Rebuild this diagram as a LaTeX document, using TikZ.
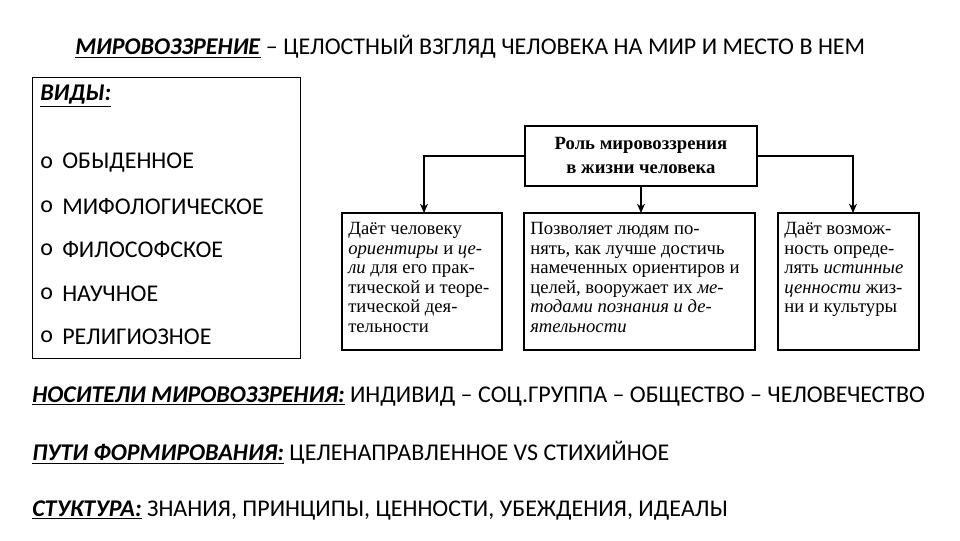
\documentclass[tikz,border=0pt]{standalone}
\usepackage{fontspec}
\setmainfont{Carlito}
\newfontfamily\serifb{Liberation Serif}
\usetikzlibrary{arrows.meta}
\begin{document}
\begin{tikzpicture}[x=0.75pt,y=-0.75pt,
  txt/.style={anchor=west,inner sep=0pt,font=\fontsize{18}{20}\selectfont},
  rbox/.style={draw,line width=0.8pt},
  btxt/.style={anchor=north west,inner sep=0pt,align=left,font=\serifb\fontsize{14}{14.7}\selectfont},
  arr/.style={line width=0.8pt,-{Stealth[length=7pt,width=6pt]}}]
\useasboundingbox (0,0) rectangle (960,540);
\node[txt] (title) at (75,47) {\underline{\textbf{\textit{МИРОВОЗЗРЕНИЕ}}} – ЦЕЛОСТНЫЙ ВЗГЛЯД ЧЕЛОВЕКА НА МИР И МЕСТО В НЕМ};
\draw[line width=0.6pt] (32,77) rectangle (300,358);
\node[txt] (vidy) at (40,96) {\underline{\textbf{\textit{ВИДЫ:}}}};
\foreach \t/\y [count=\i] in {ОБЫДЕННОЕ/163,МИФОЛОГИЧЕСКОЕ/207,ФИЛОСОФСКОЕ/250,НАУЧНОЕ/294,РЕЛИГИОЗНОЕ/337}{
  \node[txt] (o\i) at (40,\y) {o};
  \node[txt] (v\i) at (62,\y) {\t};}
% diagram
\draw[rbox] (525,126) rectangle (757,186);
\node[align=center,font=\serifb\bfseries\fontsize{14}{18}\selectfont] (toptxt) at (641,155) {Роль мировоззрения\\в жизни человека};
\coordinate (L) at (424,156); \coordinate (R) at (853,156);
\coordinate (TL) at (525,156); \coordinate (TR) at (757,156); \coordinate (TB) at (641,186);
\draw[rbox] (342,213) rectangle (502,350);
\draw[rbox] (524,213) rectangle (755,350);
\draw[rbox] (778,213) rectangle (919,350);
\coordinate (b1) at (424,213); \coordinate (b2) at (641,213); \coordinate (b3) at (853,213);
\draw[arr] (TL) -- (L) -- (b1);
\draw[arr] (TB) -- (b2);
\draw[arr] (TR) -- (R) -- (b3);
\node[btxt] (t1) at (348,222) {Даёт человеку\\\textit{ориентиры} и \textit{це-}\\\textit{ли} для его прак-\\тической и теоре-\\тической дея-\\тельности};
\node[btxt] (t2) at (530,222) {Позволяет людям по-\\нять, как лучше достичь\\намеченных ориентиров и\\целей, вооружает их \textit{ме-}\\\textit{тодами познания и де-}\\\textit{ятельности}};
\node[btxt] (t3) at (784,222) {Даёт возмож-\\ность опреде-\\лять \textit{истинные}\\\textit{ценности} жиз-\\ни и культуры};
% bottom
\node[txt] (nos) at (32,396) {\underline{\textbf{\textit{НОСИТЕЛИ МИРОВОЗЗРЕНИЯ:}}} ИНДИВИД – СОЦ.ГРУППА – ОБЩЕСТВО – ЧЕЛОВЕЧЕСТВО};
\node[txt] (puti) at (32,453) {\underline{\textbf{\textit{ПУТИ ФОРМИРОВАНИЯ:}}} ЦЕЛЕНАПРАВЛЕННОЕ VS СТИХИЙНОЕ};
\node[txt] (str) at (32,510) {\underline{\textbf{\textit{СТУКТУРА:}}} ЗНАНИЯ, ПРИНЦИПЫ, ЦЕННОСТИ, УБЕЖДЕНИЯ, ИДЕАЛЫ};
\end{tikzpicture}
\end{document}
